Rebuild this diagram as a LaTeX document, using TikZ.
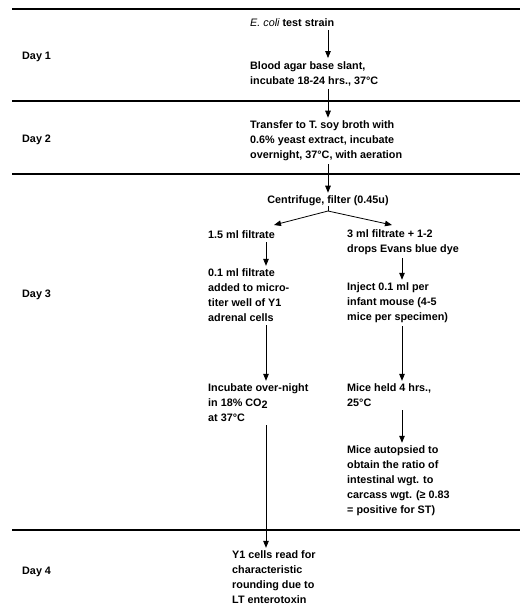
\documentclass[tikz,border=0pt]{standalone}
\usepackage{fontspec}
\setmainfont{Liberation Sans}
\usetikzlibrary{arrows.meta}
\begin{document}
\begin{tikzpicture}[x=1pt,y=-1pt,
  txt/.style={anchor=west,inner sep=0pt,align=left,font=\fontsize{10.8}{15}\selectfont\bfseries},
  rule/.style={line width=1.7pt},
  conn/.style={line width=0.8pt},
  arr/.style={line width=0.8pt,-{Triangle[width=5.5pt,length=7pt]},shorten <=3pt,shorten >=3pt},
]
\useasboundingbox (0,0) rectangle (527,614);
% column reference coordinates
\coordinate (mx) at (328,0);
\coordinate (lx) at (266,0);
\coordinate (rx) at (402,0);
% rules
\coordinate (r1a) at (12,9);   \coordinate (r1b) at (520,9);
\coordinate (r2a) at (12,101); \coordinate (r2b) at (520,101);
\coordinate (r3a) at (12,174); \coordinate (r3b) at (520,174);
\coordinate (r4a) at (12,530); \coordinate (r4b) at (520,530);
\draw[rule] (r1a) -- (r1b);
\draw[rule] (r2a) -- (r2b);
\draw[rule] (r3a) -- (r3b);
\draw[rule] (r4a) -- (r4b);
% day labels
\node[txt] (d1) at (22,57) {Day 1};
\node[txt] (d2) at (22,140) {Day 2};
\node[txt] (d3) at (22,295) {Day 3};
\node[txt] (d4) at (22,572) {Day 4};
% main column
\node[txt] (ecoli) at (250,23) {{\mdseries\itshape E. coli} test strain};
\node[txt] (blood) at (250,73.5) {Blood agar base slant,\\incubate 18-24 hrs., 37°C};
\node[txt] (trans) at (250,141) {Transfer to T. soy broth with\\0.6\% yeast extract, incubate\\overnight, 37°C, with aeration};
\node[txt,anchor=center] (cent) at (328,201) {Centrifuge, filter (0.45u)};
% left column
\node[txt] (l1) at (208,235) {1.5 ml filtrate};
\node[txt] (l2) at (208,295.5) {0.1 ml filtrate\\added to micro-\\titer well of Y1\\adrenal cells};
\node[txt] (l3) at (208,403) {Incubate over-night\\in 18\% CO\raisebox{-0.35ex}{2}\\at 37°C};
% right column
\node[txt] (r1) at (347,242.5) {3 ml filtrate + 1-2\\drops Evans blue dye};
\node[txt] (r2) at (347,303) {Inject 0.1 ml per\\infant mouse (4-5\\mice per specimen)};
\node[txt] (r3) at (347,395.5) {Mice held 4 hrs.,\\25°C};
\node[txt] (r4) at (347,481) {Mice autopsied to\\obtain the ratio of\\intestinal wgt. to\\carcass wgt. (≥ 0.83\\= positive for ST)};
% day 4
\node[txt] (y1) at (232,577.5) {Y1 cells read for\\characteristic\\rounding due to\\LT enterotoxin};
% arrows main
\draw[arr] (ecoli.south -| mx) -- (blood.north -| mx);
\draw[arr] (blood.south -| mx) -- (trans.north -| mx);
\draw[arr] (trans.south -| mx) -- (cent.north -| mx);
% branch
\coordinate (apex) at (328,211);
\coordinate (bl) at (274,225);
\coordinate (br) at (392,225);
\draw[conn] (cent.south -| mx) -- (apex);
\draw[arr,shorten <=0pt,shorten >=0pt] (apex) -- (bl);
\draw[arr,shorten <=0pt,shorten >=0pt] (apex) -- (br);
% left arrows
\draw[arr] (l1.south -| lx) -- (l2.north -| lx);
\draw[arr] (l2.south -| lx) -- (l3.north -| lx);
\draw[arr] (l3.south -| lx) -- (y1.north -| lx);
% right arrows
\draw[arr] (r1.south -| rx) -- (r2.north -| rx);
\draw[arr] (r2.south -| rx) -- (r3.north -| rx);
\draw[arr] (r3.south -| rx) -- (r4.north -| rx);
\end{tikzpicture}
\end{document}
